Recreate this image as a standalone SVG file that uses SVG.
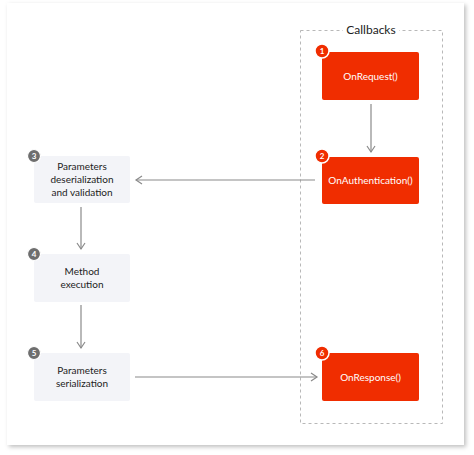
<svg xmlns="http://www.w3.org/2000/svg" width="474" height="455" viewBox="0 0 474 455">
<defs>
<filter id="sh" x="-5%" y="-5%" width="110%" height="110%"><feDropShadow dx="2" dy="2" stdDeviation="2" flood-color="#000" flood-opacity="0.25"/></filter>
<marker id="ah" markerWidth="10" markerHeight="10" refX="8" refY="5" orient="auto" markerUnits="userSpaceOnUse"><path d="M2,1 L8,5 L2,9" fill="none" stroke="#8a8a8a" stroke-width="1.2"/></marker>
<style>
.red{fill:#f02d00;}
.gray{fill:#f3f4f8;}
.t{font-family:Lato,"Open Sans",sans-serif;font-size:10px;text-anchor:middle;fill:#222;}
.tw{font-family:Lato,"Open Sans",sans-serif;font-size:10px;text-anchor:middle;fill:#fff;}
.bn{font-family:Lato,"Open Sans",sans-serif;font-size:8px;font-weight:bold;text-anchor:middle;fill:#fff;}
.c{stroke:#8a8a8a;stroke-width:1.2;fill:none;marker-end:url(#ah);}
</style>
</defs>
<rect x="0" y="0" width="474" height="455" fill="#fff"/>
<rect x="7" y="3" width="457" height="442" fill="#fff" filter="url(#sh)"/>
<g id="callbacks">
<rect x="300.5" y="30.5" width="142" height="393" fill="none" stroke="#b8b8b8" stroke-dasharray="3,3"/>
<rect x="343" y="22" width="56" height="16" fill="#fff"/>
<text x="371" y="34" font-family="Lato,'Open Sans',sans-serif" font-size="12" text-anchor="middle" fill="#222">Callbacks</text>
</g>
<g id="connectors">
<line class="c" x1="371" y1="104" x2="371" y2="152"/>
<line class="c" x1="315" y1="180" x2="136" y2="180"/>
<line class="c" x1="81" y1="207" x2="81" y2="249"/>
<line class="c" x1="81" y1="305" x2="81" y2="348"/>
<line class="c" x1="135" y1="377" x2="317" y2="377"/>
</g>
<g id="n1">
<rect class="red" x="322" y="52" width="97" height="48" rx="2"/>
<text class="tw" x="370.5" y="80">OnRequest()</text>
<circle cx="322" cy="51" r="7" fill="#f02d00" stroke="#fff" stroke-width="1.5"/>
<text class="bn" x="322" y="54">1</text>
</g>
<g id="n2">
<rect class="red" x="322" y="157" width="97" height="47" rx="2"/>
<text class="tw" x="370.5" y="184">OnAuthentication()</text>
<circle cx="322" cy="156" r="7" fill="#f02d00" stroke="#fff" stroke-width="1.5"/>
<text class="bn" x="322" y="159">2</text>
</g>
<g id="n3">
<rect class="gray" x="34" y="156" width="96" height="47" rx="2"/>
<text class="t" x="82" y="170">Parameters</text>
<text class="t" x="82" y="183">deserialization</text>
<text class="t" x="82" y="196">and validation</text>
<circle cx="34" cy="156" r="6.5" fill="#6e6e6e" stroke="#fff" stroke-width="1.2"/>
<text class="bn" x="34" y="159">3</text>
</g>
<g id="n4">
<rect class="gray" x="34" y="254" width="96" height="48" rx="2"/>
<text class="t" x="82" y="275">Method</text>
<text class="t" x="82" y="288">execution</text>
<circle cx="34" cy="254" r="6.5" fill="#6e6e6e" stroke="#fff" stroke-width="1.2"/>
<text class="bn" x="34" y="257">4</text>
</g>
<g id="n5">
<rect class="gray" x="34" y="353" width="96" height="48" rx="2"/>
<text class="t" x="82" y="374">Parameters</text>
<text class="t" x="82" y="387">serialization</text>
<circle cx="34" cy="353" r="6.5" fill="#6e6e6e" stroke="#fff" stroke-width="1.2"/>
<text class="bn" x="34" y="356">5</text>
</g>
<g id="n6">
<rect class="red" x="322" y="353" width="97" height="48" rx="2"/>
<text class="tw" x="370.5" y="381">OnResponse()</text>
<circle cx="322" cy="353" r="7" fill="#f02d00" stroke="#fff" stroke-width="1.5"/>
<text class="bn" x="322" y="356">6</text>
</g>
</svg>
